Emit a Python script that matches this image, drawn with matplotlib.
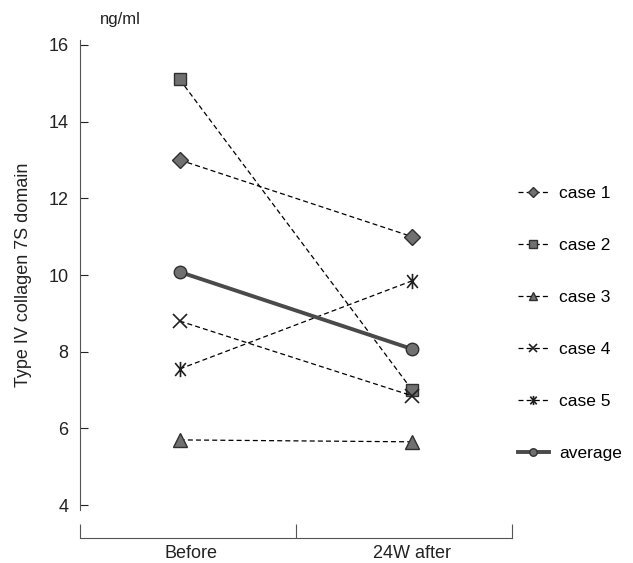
import matplotlib
matplotlib.use("Agg")
import matplotlib.pyplot as plt
from matplotlib.path import Path
import numpy as np

categories = ["Before", "24W after"]
case1 = [13.0, 11.0]
case2 = [15.1, 7.0]
case3 = [5.7, 5.65]
case4 = [8.8, 6.85]
case5 = [7.55, 9.85]
average = [10.08, 8.07]
yticks = [4, 6, 8, 10, 12, 14, 16]

plt.rcParams['font.family'] = ['Liberation Sans', 'DejaVu Sans']

# asterisk marker: X with vertical line
ast = Path([(0, -1), (0, 1), (-0.7, -0.85), (0.7, 0.85), (-0.7, 0.85), (0.7, -0.85)],
           [Path.MOVETO, Path.LINETO, Path.MOVETO, Path.LINETO, Path.MOVETO, Path.LINETO])

fig = plt.figure(figsize=(6.33, 5.63), dpi=100)
ax = fig.add_axes([0.126, 0.094, 0.683, 0.835])

x = np.arange(len(categories))
fc = '#707070'
ec = '#303030'
dash = (0, (4, 2.5))
series = [
    ("case 1", case1, 'D', 8, dash, 0.9, 'k'),
    ("case 2", case2, 's', 9, dash, 0.9, 'k'),
    ("case 3", case3, '^', 10, dash, 0.9, 'k'),
    ("case 4", case4, 'x', 10, dash, 0.9, 'k'),
    ("case 5", case5, ast, 11, dash, 0.9, 'k'),
    ("average", average, 'o', 9, '-', 2.8, '#4a4a4a'),
]
handles = []
for name, vals, m, ms, ls, lw, lc in series:
    if m in ('x',) or m is ast:
        h, = ax.plot(x, vals, linestyle=ls, color=lc, lw=lw, marker=m, ms=ms,
                     mec='#202020', mew=1.2, label=name, zorder=3)
    else:
        h, = ax.plot(x, vals, linestyle=ls, color=lc, lw=lw, marker=m, ms=ms,
                     mfc=fc, mec=ec, mew=1.0, label=name, zorder=3)
    handles.append(h)

ax.set_xlim(-0.43, 1.43)
ax.set_ylim(3.87, 16.13)
ax.set_yticks(yticks)
ax.tick_params(axis='y', direction='in', length=6, width=0.8, labelsize=13, pad=8, colors='#222222')

for s in ['top', 'right']:
    ax.spines[s].set_visible(False)
ax.spines['left'].set_color('#555555')
ax.spines['left'].set_linewidth(0.8)
ax.spines['bottom'].set_position(('outward', 20))
ax.spines['bottom'].set_color('#555555')
ax.spines['bottom'].set_linewidth(0.8)

ax.set_xticks([-0.43, 0.5, 1.43])
ax.set_xticklabels(['', '', ''])
ax.tick_params(axis='x', which='major', direction='in', length=10, width=0.8, colors='#555555')
ax.set_xticks([0.05, 1.0], minor=True)
ax.set_xticklabels(categories, minor=True)
ax.tick_params(axis='x', which='minor', length=0, labelsize=13, pad=5, colors='#222222')

ax.set_ylabel("Type IV collagen 7S domain", fontsize=13, labelpad=12, color='#222222')
fig.text(0.19, 0.965, "ng/ml", fontsize=12, ha='center', va='center', color='#222222')

fig.legend(handles=handles, loc='upper left', bbox_to_anchor=(0.793, 0.697), frameon=False,
           fontsize=12.5, labelspacing=2.12, handlelength=1.8, markerscale=0.6,
           handletextpad=0.6)

fig.savefig("out.png", dpi=100)
